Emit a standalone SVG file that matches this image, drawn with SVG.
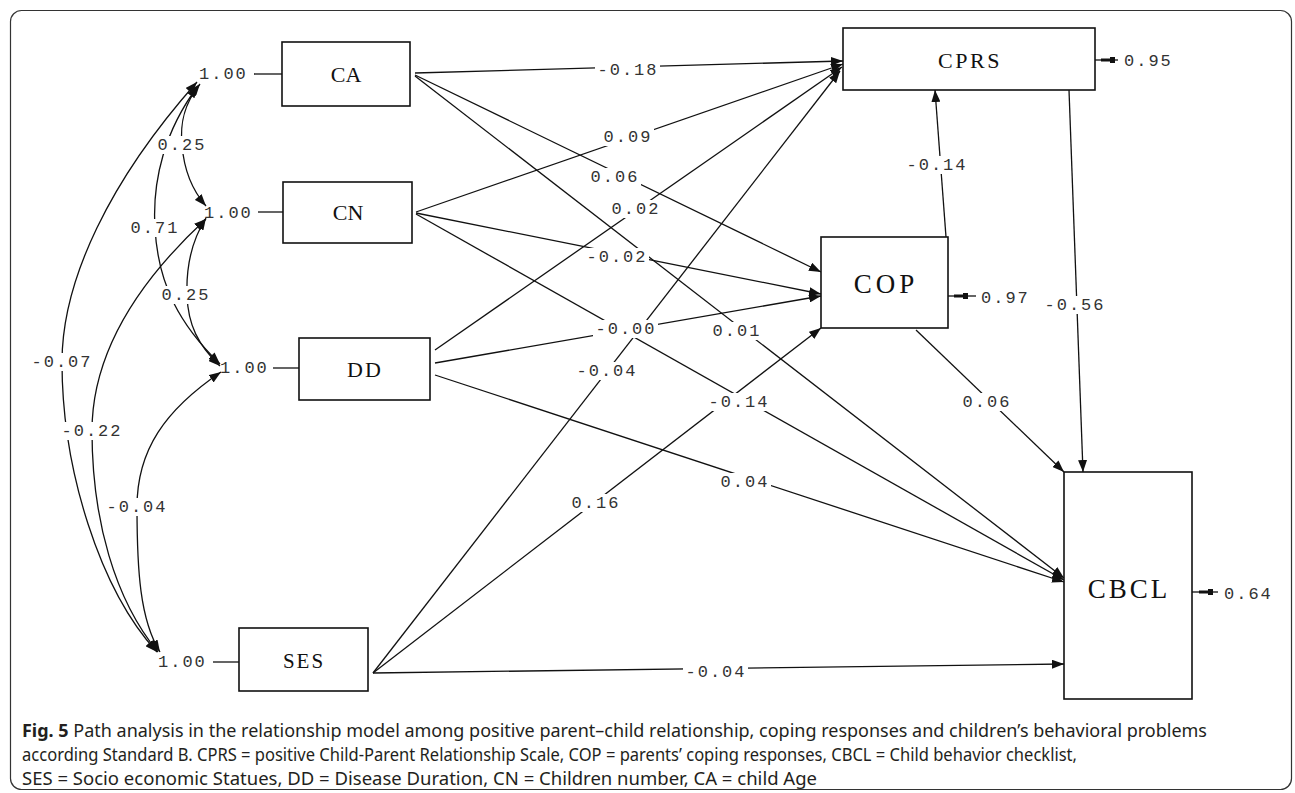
<svg xmlns="http://www.w3.org/2000/svg" width="1295" height="793" viewBox="0 0 1295 793">
<style>
.box{fill:#fff;stroke:#111;stroke-width:1.6}
.nl{font-family:"Liberation Serif",serif;fill:#111;text-anchor:middle;dominant-baseline:central}
.ln{fill:none;stroke:#111;stroke-width:1.3}
.bg{fill:#fff}
.lb{font-family:"Liberation Mono",monospace;font-size:17px;letter-spacing:2px;fill:#333;text-anchor:middle;dominant-baseline:central}
.one{font-family:"Liberation Mono",monospace;font-size:17px;letter-spacing:2px;fill:#333;dominant-baseline:central}
.cap{font-family:"Noto Sans",sans-serif;font-size:18px;fill:#231f20}
</style>
<defs>
<marker id="ah" markerUnits="userSpaceOnUse" markerWidth="13" markerHeight="9" refX="12" refY="4.5" orient="auto-start-reverse">
<path d="M0,0 L12,4.5 L0,9 z" fill="#111"/>
</marker>
</defs>
<rect x="10.5" y="10.5" width="1281" height="779" rx="11" fill="#fff" stroke="#333" stroke-width="1.2"/>

<g id="connectors">
<!-- covariance curves -->
<path class="ln" d="M200,84 C183,105 180,125 182,145 C184,170 192,190 206,206" marker-start="url(#ah)" marker-end="url(#ah)"/>
<path class="ln" d="M198,86 C165,130 152,180 155,228 C158,285 180,325 220,364" marker-start="url(#ah)" marker-end="url(#ah)"/>
<path class="ln" d="M206,218 C192,240 186,265 187,295 C188,325 198,345 220,366" marker-start="url(#ah)" marker-end="url(#ah)"/>
<path class="ln" d="M197,82 C110,180 62,280 62,362 C62,470 100,590 157,652" marker-start="url(#ah)" marker-end="url(#ah)"/>
<path class="ln" d="M206,219 C140,280 92,350 92,431 C92,520 115,600 158,652" marker-start="url(#ah)" marker-end="url(#ah)"/>
<path class="ln" d="M221,372 C165,410 137,450 137,507 C137,570 140,620 160,652" marker-start="url(#ah)" marker-end="url(#ah)"/>
<!-- 1.00 stubs -->
<line class="ln" x1="254" y1="74" x2="282" y2="74"/>
<line class="ln" x1="258" y1="212" x2="283" y2="212"/>
<line class="ln" x1="273" y1="368" x2="299" y2="368"/>
<line class="ln" x1="213" y1="662" x2="239" y2="662"/>
<!-- paths to CPRS -->
<line class="ln" x1="415" y1="73" x2="843" y2="61" marker-end="url(#ah)"/>
<line class="ln" x1="416" y1="212" x2="843" y2="64" marker-end="url(#ah)"/>
<line class="ln" x1="435" y1="350" x2="842" y2="67" marker-end="url(#ah)"/>
<line class="ln" x1="373" y1="673" x2="840" y2="71" marker-end="url(#ah)"/>
<!-- paths to COP -->
<line class="ln" x1="415" y1="75" x2="821" y2="272" marker-end="url(#ah)"/>
<line class="ln" x1="416" y1="213" x2="821" y2="294" marker-end="url(#ah)"/>
<line class="ln" x1="435" y1="363" x2="821" y2="296" marker-end="url(#ah)"/>
<line class="ln" x1="373" y1="673" x2="821" y2="328" marker-end="url(#ah)"/>
<!-- paths to CBCL -->
<line class="ln" x1="415" y1="76" x2="1064" y2="578" marker-end="url(#ah)"/>
<line class="ln" x1="416" y1="214" x2="1064" y2="580" marker-end="url(#ah)"/>
<line class="ln" x1="435" y1="375" x2="1064" y2="582" marker-end="url(#ah)"/>
<line class="ln" x1="373" y1="673" x2="1064" y2="664" marker-end="url(#ah)"/>
<line class="ln" x1="916" y1="330" x2="1064" y2="472" marker-end="url(#ah)"/>
<line class="ln" x1="1069" y1="90" x2="1083" y2="472" marker-end="url(#ah)"/>
<!-- COP to CPRS -->
<line class="ln" x1="946" y1="237" x2="935" y2="90" marker-end="url(#ah)"/>
<!-- error terms -->
<line class="ln" x1="1095" y1="60" x2="1118" y2="60"/>
<rect x="1101" y="58.5" width="10" height="3" fill="#111"/>
<rect x="1110" y="57" width="5" height="6" fill="#111"/>
<line class="ln" x1="948" y1="296" x2="976" y2="296"/>
<rect x="954" y="294.5" width="10" height="3" fill="#111"/>
<rect x="963" y="293" width="5" height="6" fill="#111"/>
<line class="ln" x1="1192" y1="592" x2="1218" y2="592"/>
<rect x="1199" y="590.5" width="10" height="3" fill="#111"/>
<rect x="1208" y="589" width="5" height="6" fill="#111"/>
<!-- label backgrounds -->
<rect class="bg" x="155" y="136" width="53" height="18"/>
<rect class="bg" x="128" y="219" width="53" height="18"/>
<rect class="bg" x="159" y="286" width="53" height="18"/>
<rect class="bg" x="29" y="353" width="65" height="18"/>
<rect class="bg" x="59" y="422" width="65" height="18"/>
<rect class="bg" x="104" y="498" width="65" height="18"/>
<rect class="bg" x="595" y="61" width="65" height="18"/>
<rect class="bg" x="601" y="128" width="53" height="18"/>
<rect class="bg" x="588" y="168" width="53" height="18"/>
<rect class="bg" x="609" y="200" width="53" height="18"/>
<rect class="bg" x="584" y="248" width="65" height="18"/>
<rect class="bg" x="593" y="320" width="65" height="18"/>
<rect class="bg" x="710" y="322" width="53" height="18"/>
<rect class="bg" x="574" y="362" width="65" height="18"/>
<rect class="bg" x="706" y="393" width="65" height="18"/>
<rect class="bg" x="718" y="473" width="53" height="18"/>
<rect class="bg" x="569" y="494" width="53" height="18"/>
<rect class="bg" x="683" y="663" width="65" height="18"/>
<rect class="bg" x="904" y="156" width="65" height="18"/>
<rect class="bg" x="1042" y="296" width="65" height="18"/>
<rect class="bg" x="960" y="393" width="53" height="18"/>
<!-- labels -->
<text class="lb" x="182" y="145">0.25</text>
<text class="lb" x="155" y="228">0.71</text>
<text class="lb" x="186" y="295">0.25</text>
<text class="lb" x="62" y="362">-0.07</text>
<text class="lb" x="92" y="431">-0.22</text>
<text class="lb" x="137" y="507">-0.04</text>
<text class="lb" x="628" y="70">-0.18</text>
<text class="lb" x="628" y="137">0.09</text>
<text class="lb" x="615" y="177">0.06</text>
<text class="lb" x="636" y="209">0.02</text>
<text class="lb" x="617" y="257">-0.02</text>
<text class="lb" x="626" y="329">-0.00</text>
<text class="lb" x="737" y="331">0.01</text>
<text class="lb" x="607" y="371">-0.04</text>
<text class="lb" x="739" y="402">-0.14</text>
<text class="lb" x="745" y="482">0.04</text>
<text class="lb" x="596" y="503">0.16</text>
<text class="lb" x="716" y="672">-0.04</text>
<text class="lb" x="937" y="165">-0.14</text>
<text class="lb" x="1075" y="305">-0.56</text>
<text class="lb" x="987" y="402">0.06</text>
<text class="one" x="1124" y="61">0.95</text>
<text class="one" x="981" y="298">0.97</text>
<text class="one" x="1224" y="594">0.64</text>
</g>

<g id="node-CA">
<text class="one" x="199" y="74">1.00</text>
<rect class="box" x="282" y="42" width="128" height="64"/>
<text class="nl" x="346" y="74" font-size="22">CA</text>
</g>
<g id="node-CN">
<text class="one" x="204" y="213">1.00</text>
<rect class="box" x="283" y="182" width="129" height="61"/>
<text class="nl" x="348" y="212" font-size="22">CN</text>
</g>
<g id="node-DD">
<text class="one" x="220" y="368">1.00</text>
<rect class="box" x="299" y="338" width="131" height="62"/>
<text class="nl" x="365" y="369" font-size="22" letter-spacing="2">DD</text>
</g>
<g id="node-SES">
<text class="one" x="158" y="662">1.00</text>
<rect class="box" x="239" y="628" width="129" height="63"/>
<text class="nl" x="304" y="661" font-size="21" letter-spacing="2">SES</text>
</g>
<g id="node-CPRS">
<rect class="box" x="843" y="28" width="252" height="62"/>
<text class="nl" x="970" y="60" font-size="22" letter-spacing="2.5">CPRS</text>
</g>
<g id="node-COP">
<rect class="box" x="821" y="237" width="127" height="91"/>
<text class="nl" x="886" y="284" font-size="27" letter-spacing="4">COP</text>
</g>
<g id="node-CBCL">
<rect class="box" x="1064" y="472" width="128" height="227"/>
<text class="nl" x="1129" y="589" font-size="27" letter-spacing="3">CBCL</text>
</g>

<g id="caption">
<text class="cap" x="22" y="737" textLength="1185" lengthAdjust="spacingAndGlyphs"><tspan font-weight="bold">Fig. 5</tspan>  Path analysis in the relationship model among positive parent–child relationship, coping responses and children’s behavioral problems</text>
<text class="cap" x="22" y="761" textLength="1055" lengthAdjust="spacingAndGlyphs">according Standard B. CPRS = positive Child-Parent Relationship Scale, COP = parents’ coping responses, CBCL = Child behavior checklist,</text>
<text class="cap" x="22" y="785" textLength="795" lengthAdjust="spacingAndGlyphs">SES = Socio economic Statues, DD = Disease Duration, CN = Children number, CA = child Age</text>
</g>
</svg>
